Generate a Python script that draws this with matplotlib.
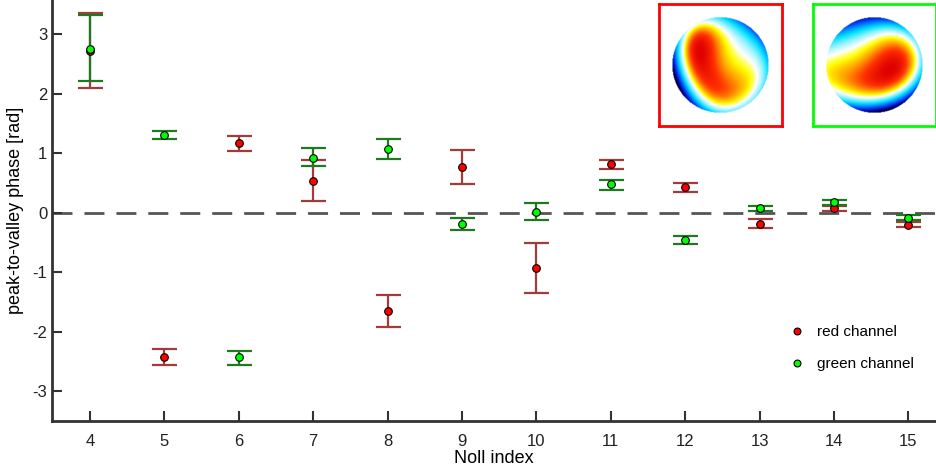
import matplotlib
matplotlib.use("Agg")
import matplotlib.pyplot as plt
from matplotlib.colors import LinearSegmentedColormap, TwoSlopeNorm
import numpy as np

plt.rcParams['axes.unicode_minus'] = False
plt.rcParams['font.family'] = ['Liberation Sans Narrow', 'Liberation Sans', 'DejaVu Sans']

# Noll index and peak-to-valley phase [rad]
noll = [4, 5, 6, 7, 8, 9, 10, 11, 12, 13, 14, 15]

red_val = [2.73, -2.42, 1.17, 0.53, -1.65, 0.77, -0.93, 0.82, 0.43, -0.18, 0.08, -0.20]
red_low = [2.10, -2.55, 1.04, 0.20, -1.92, 0.49, -1.34, 0.74, 0.35, -0.26, 0.04, -0.24]
red_high = [3.36, -2.29, 1.29, 0.89, -1.38, 1.05, -0.51, 0.89, 0.50, -0.11, 0.12, -0.15]

green_val = [2.76, 1.31, -2.43, 0.93, 1.07, -0.19, 0.02, 0.48, -0.46, 0.08, 0.18, -0.08]
green_low = [2.21, 1.25, -2.55, 0.78, 0.90, -0.29, -0.12, 0.39, -0.53, 0.03, 0.13, -0.12]
green_high = [3.32, 1.38, -2.32, 1.09, 1.24, -0.09, 0.16, 0.55, -0.39, 0.12, 0.22, -0.03]


def zernike(j, r, t):
    # Noll ordered Zernike terms 4..15 (unnormalised)
    table = {
        4: 2*r**2 - 1,
        5: r**2*np.sin(2*t),
        6: r**2*np.cos(2*t),
        7: (3*r**3 - 2*r)*np.sin(t),
        8: (3*r**3 - 2*r)*np.cos(t),
        9: r**3*np.sin(3*t),
        10: r**3*np.cos(3*t),
        11: 6*r**4 - 6*r**2 + 1,
        12: (4*r**4 - 3*r**2)*np.cos(2*t),
        13: (4*r**4 - 3*r**2)*np.sin(2*t),
        14: r**4*np.cos(4*t),
        15: r**4*np.sin(4*t),
    }
    return table[j]


def phase_map(values, n=200):
    y, x = np.mgrid[-1.27:1.27:n*1j, -1.27:1.27:n*1j]
    r = np.hypot(x, y)
    t = np.arctan2(y, x)
    w = np.zeros_like(r)
    inside = r <= 1
    for j, v in zip(noll, values):
        z = zernike(j, r, t)
        pv = z[inside].max() - z[inside].min()
        w -= v * z / pv
    w[~inside] = np.nan
    return w


cmap = LinearSegmentedColormap.from_list(
    "pv", ["#000000", "#0000a0", "#0050ff", "#00e0ff", "#ffffff",
           "#ffff00", "#ffa000", "#ff3000", "#e00000"])
cmap.set_bad("white")

fig = plt.figure(figsize=(9.36, 4.70), dpi=100)
ax = fig.add_axes([52/936, 1 - 421/470, 1 - 52/936, 421/470])

ax.axhline(0, color='#555555', linestyle=(0, (7.2, 4.3)), linewidth=2, zorder=1)

red_err = [np.array(red_val) - np.array(red_low), np.array(red_high) - np.array(red_val)]
green_err = [np.array(green_val) - np.array(green_low), np.array(green_high) - np.array(green_val)]

ax.errorbar(noll, red_val, yerr=red_err, fmt='none', ecolor='#a23c3c',
            elinewidth=1.6, capsize=9, capthick=1.6, zorder=2)
ax.errorbar(noll, green_val, yerr=green_err, fmt='none', ecolor='#1e7a1e',
            elinewidth=1.6, capsize=9, capthick=1.6, zorder=3)
ax.plot(noll, red_val, 'o', color='#ff0000', markeredgecolor='black',
        markersize=5.5, markeredgewidth=0.8, linestyle='none', zorder=4, label='red channel')
ax.plot(noll, green_val, 'o', color='#00ff00', markeredgecolor='black',
        markersize=5.5, markeredgewidth=0.8, linestyle='none', zorder=5, label='green channel')

ax.set_xlim(3.49, 15.37)
ax.set_ylim(-3.5, 3.58)
ax.set_xticks(noll)
ax.set_yticks([-3, -2, -1, 0, 1, 2, 3])
ax.tick_params(direction='in', length=7, width=1.5, labelsize=12, colors='#333333',
               labelcolor='#222222')
ax.tick_params(axis='x', pad=9)
for s in ['top', 'right']:
    ax.spines[s].set_visible(False)
for s in ['left', 'bottom']:
    ax.spines[s].set_linewidth(2)
    ax.spines[s].set_color('#333333')

ax.set_xlabel('Noll index', fontsize=13, labelpad=1)
ax.set_ylabel('peak-to-valley phase [rad]', fontsize=13, labelpad=6,
              family=['Liberation Sans', 'DejaVu Sans'])

leg = ax.legend(loc='lower right', bbox_to_anchor=(0.99, 0.085), frameon=False,
                handletextpad=0.3, labelspacing=1.2, markerscale=0.9,
                prop={'family': ['Liberation Sans', 'DejaVu Sans'], 'size': 11})

# inset phase maps
for left, vals, edge in [(659, red_val, '#ff0000'), (813, green_val, '#00ff00')]:
    iax = fig.add_axes([left/936, 1 - 126/470, 123/936, 122/470])
    w = phase_map(vals)
    inner = w[~np.isnan(w)]
    norm = TwoSlopeNorm(vcenter=np.percentile(inner, 40), vmin=inner.min(), vmax=inner.max())
    iax.imshow(w, cmap=cmap, norm=norm, origin='upper',
               aspect='auto', interpolation='bilinear')
    iax.set_xticks([])
    iax.set_yticks([])
    for s in iax.spines.values():
        s.set_color(edge)
        s.set_linewidth(2)

fig.savefig('out.png', dpi=100)
